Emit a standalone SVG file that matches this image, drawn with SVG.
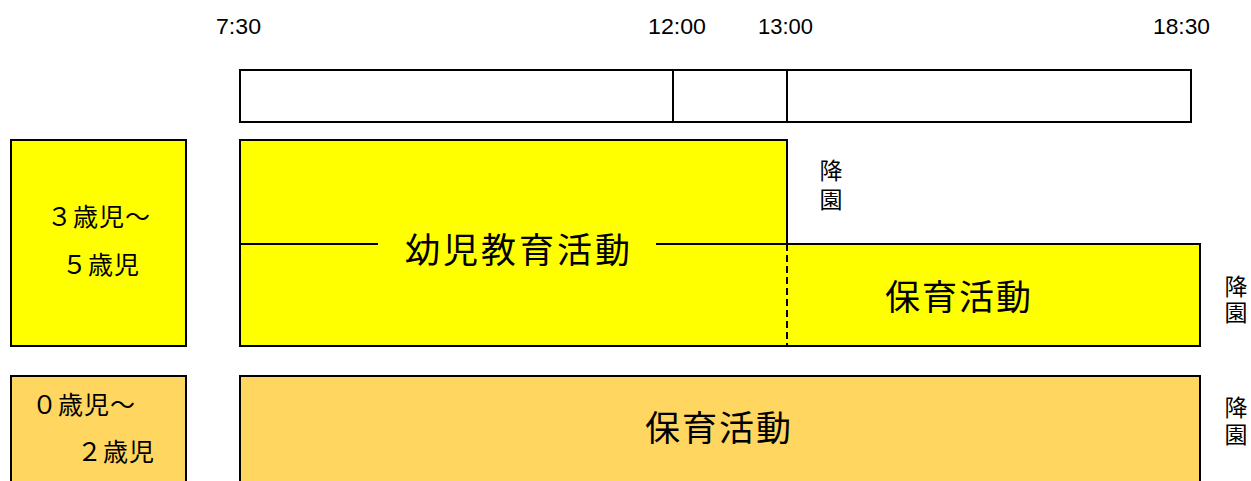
<svg xmlns="http://www.w3.org/2000/svg" width="1251" height="481" viewBox="0 0 1251 481">
<style>
.ln{stroke:#000;stroke-width:2;fill:none}
.yl{fill:#FFFF00;stroke:#000;stroke-width:2}
.or{fill:#FFD65F;stroke:#000;stroke-width:2}
.tm{font-family:"Liberation Sans","Noto Sans CJK JP",sans-serif;font-size:22px;fill:#000}
.big{font-family:"Noto Sans CJK JP",sans-serif;font-size:35px;fill:#000}
.age{font-family:"Liberation Serif","Noto Sans CJK JP",serif;font-size:25px;fill:#000;letter-spacing:1px}
.kou{font-family:"Noto Sans CJK JP",sans-serif;font-size:23px;fill:#000;writing-mode:vertical-rl}
</style>
<rect width="1251" height="481" fill="#fff"/>
<g id="time-labels">
<text class="tm" x="216" y="34" textLength="45" lengthAdjust="spacingAndGlyphs">7:30</text>
<text class="tm" x="648" y="34" textLength="58" lengthAdjust="spacingAndGlyphs">12:00</text>
<text class="tm" x="758" y="34" textLength="55" lengthAdjust="spacingAndGlyphs">13:00</text>
<text class="tm" x="1153" y="34" textLength="57" lengthAdjust="spacingAndGlyphs">18:30</text>
</g>
<g id="timebar">
<rect class="ln" x="240" y="70" width="951" height="52"/>
<line class="ln" x1="673" y1="70" x2="673" y2="122"/>
<line class="ln" x1="787" y1="70" x2="787" y2="122"/>
</g>
<g id="age35">
<rect class="yl" x="11" y="140" width="175" height="206"/>
<text class="age" x="47" y="226">３歳児～</text>
<text class="age" x="62" y="274">５歳児</text>
</g>
<g id="youji">
<path class="yl" d="M240,140 H787 V244 H1200 V346 H240 Z"/>
<text class="big" x="405" y="263" letter-spacing="3">幼児教育活動</text>
</g>
<g id="hoiku35">
<text class="big" x="885" y="310" letter-spacing="2">保育活動</text>
</g>
<g id="kouen1">
<text class="kou" x="831" y="159" letter-spacing="6">降園</text>
</g>
<g id="kouen2">
<text class="kou" x="1236" y="275" letter-spacing="3">降園</text>
</g>
<g id="age02">
<rect class="or" x="11" y="376" width="175" height="110"/>
<text class="age" x="32" y="414">０歳児～</text>
<text class="age" x="77" y="461">２歳児</text>
</g>
<g id="hoiku02">
<rect class="or" x="240" y="376" width="960" height="110"/>
<text class="big" x="645" y="441" letter-spacing="2">保育活動</text>
</g>
<g id="kouen3">
<text class="kou" x="1236" y="396" letter-spacing="4">降園</text>
</g>
<g id="connectors">
<line class="ln" x1="240" y1="244" x2="378" y2="244"/>
<line class="ln" x1="656" y1="244" x2="830" y2="244"/>
<line class="ln" x1="787" y1="244" x2="787" y2="346" stroke-dasharray="7,4"/>
</g>
</svg>
